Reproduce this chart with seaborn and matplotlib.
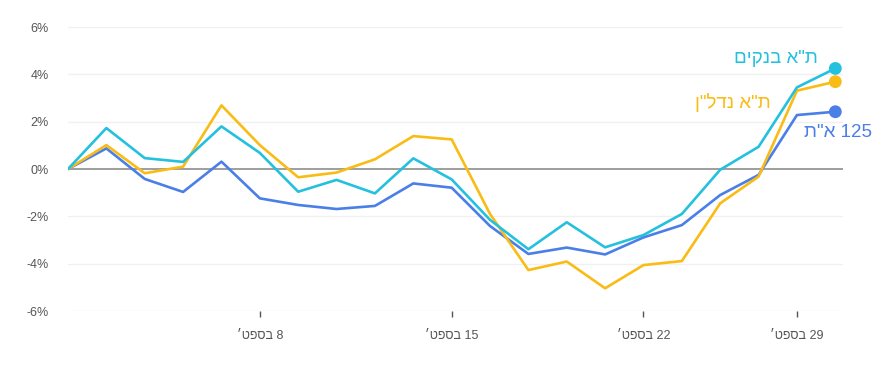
import pandas as pd
import seaborn as sns
import matplotlib.pyplot as plt

# trading days (index) and the values of each index, % change from start
days = list(range(21))
ta_banks = [0, 1.73, 0.46, 0.30, 1.80, 0.68, -0.96, -0.46, -1.03, 0.45, -0.44,
            -2.15, -3.39, -2.25, -3.31, -2.79, -1.90, -0.03, 0.94, 3.45, 4.25]
ta_realestate = [0, 1.01, -0.18, 0.10, 2.69, 1.01, -0.35, -0.15, 0.41, 1.39, 1.25,
                 -1.90, -4.27, -3.91, -5.04, -4.06, -3.89, -1.45, -0.32, 3.31, 3.69]
ta_125 = [0, 0.87, -0.42, -0.97, 0.31, -1.24, -1.52, -1.69, -1.56, -0.61, -0.79,
          -2.41, -3.59, -3.32, -3.61, -2.89, -2.37, -1.10, -0.25, 2.28, 2.42]

# hebrew labels written in visual order (matplotlib has no bidi)
series_names = ['ת"א 125', 'ן"לדנ א"ת', 'םיקנב א"ת']
series_colors = ['#4A7FE8', '#F9BC15', '#24C1DE']
tick_pos = [5, 10, 15, 19]
tick_labels = ['׳טפסב 8', '׳טפסב 15', '׳טפסב 22', '׳טפסב 29']
y_ticks = [-6, -4, -2, 0, 2, 4, 6]

df = pd.DataFrame({'day': days * 3,
                   'value': ta_125 + ta_realestate + ta_banks,
                   'series': sum([[n] * len(days) for n in series_names], [])})
last = df[df['day'] == days[-1]]

sns.set_style('white')
plt.rcParams['font.family'] = ['Liberation Sans', 'DejaVu Sans']

fig = plt.figure(figsize=(8.93, 3.82), dpi=100)
ax = fig.add_axes([68 / 893, 1 - 311 / 382, 775 / 893, 284 / 382])

for y in y_ticks:
    if y != 0:
        ax.axhline(y, color='#F0F0F0', lw=1, zorder=0)
ax.axhline(0, color='#9E9E9E', lw=1.4, zorder=1)

palette = dict(zip(series_names, series_colors))
sns.lineplot(data=df, x='day', y='value', hue='series', palette=palette,
             linewidth=1.9, legend=False, ax=ax, zorder=3)
sns.scatterplot(data=last, x='day', y='value', hue='series', palette=palette,
                s=85, edgecolor='none', legend=False, ax=ax, zorder=4)

# end labels
offsets = {series_names[0]: (37, -21, 'right'),
           series_names[1]: (-65, -21, 'right'),
           series_names[2]: (-17, 10, 'right')}
for _, row in last.iterrows():
    dx, dy, ha = offsets[row['series']]
    ax.annotate(row['series'], (row['day'], row['value']), xytext=(dx, dy),
                textcoords='offset pixels', ha=ha, va='center', fontsize=13.5,
                color=palette[row['series']],
                family=['Liberation Sans', 'DejaVu Sans'])

ax.set_xlim(0, 20.2)
ax.set_ylim(-6, 6)
ax.set_xticks(tick_pos)
ax.set_xticklabels(tick_labels)
ax.set_yticks(y_ticks)
ax.set_yticklabels([f'{v}%' for v in y_ticks])
ax.tick_params(axis='x', length=4, width=1, color='#555555', pad=10,
               labelsize=9, labelcolor='#555555', bottom=True)
ax.tick_params(axis='y', length=0, pad=14, labelsize=9, labelcolor='#555555')
ax.set_xlabel('')
ax.set_ylabel('')
sns.despine(ax=ax, left=True, bottom=True)

fig.savefig('out.png', dpi=100)
